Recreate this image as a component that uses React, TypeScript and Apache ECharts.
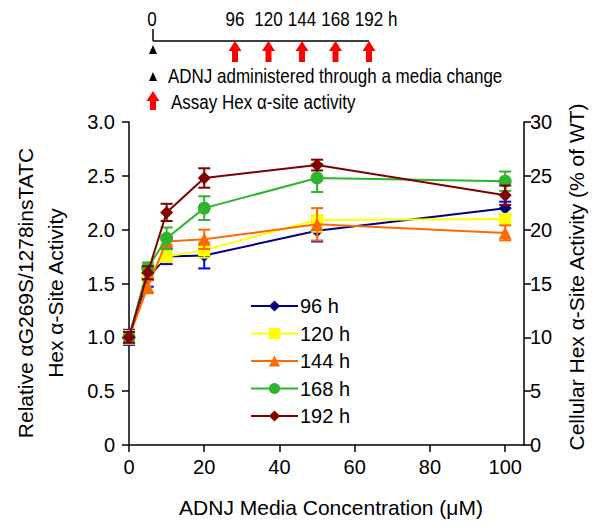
import React, { useEffect, useRef } from "react";
import * as echarts from "echarts";

const concentrations = [0, 5, 10, 20, 50, 100];
const seriesNames = ["96 h", "120 h", "144 h", "168 h", "192 h"];
const values96 = [1.0, 1.55, 1.75, 1.76, 1.99, 2.2];
const values120 = [1.0, 1.6, 1.75, 1.81, 2.09, 2.1];
const values144 = [1.0, 1.47, 1.89, 1.91, 2.05, 1.97];
const values168 = [1.0, 1.645, 1.92, 2.2, 2.48, 2.45];
const values192 = [1.0, 1.6, 2.16, 2.48, 2.6, 2.32];
const err96 = [0.07, 0.08, 0.07, 0.12, 0.1, 0.06];
const err120 = [0.06, 0.07, 0.05, 0.07, 0.11, 0.04];
const err144 = [0.05, 0.06, 0.03, 0.09, 0.15, 0.07];
const err168 = [0.05, 0.05, 0.1, 0.11, 0.13, 0.09];
const err192 = [0.05, 0.06, 0.08, 0.09, 0.05, 0.09];
const xTicks = [0, 20, 40, 60, 80, 100];
const assayHours = [96, 120, 144, 168, 192];

const FONT = "Liberation Sans, Arial, sans-serif";

export default function App() {
  const ref = useRef<HTMLDivElement>(null);
  useEffect(() => {
    if (!ref.current) return;
    const chart = echarts.init(ref.current, null, { renderer: "svg" });

    const vals = [values96, values120, values144, values168, values192];
    const errs = [err96, err120, err144, err168, err192];
    const colors = ["#000080", "#FFFF00", "#FF6A00", "#2DB52D", "#800000"];
    const errColors = ["#0000FF", "#F2F200", "#FF6A00", "#2DB52D", "#800000"];
    const symbols = ["diamond", "rect", "triangle", "circle", "diamond"];
    const symbolSizes = [13, 12, 13, 13, 13];

    const series: any[] = [];
    vals.forEach((v, i) => {
      series.push({
        type: "custom",
        name: seriesNames[i] + " err",
        xAxisIndex: 0,
        yAxisIndex: 0,
        z: 2 + i * 2,
        silent: true,
        data: concentrations.map((c, j) => [c, v[j] - errs[i][j], v[j] + errs[i][j]]),
        encode: { x: 0, y: [1, 2] },
        renderItem: (params: any, api: any) => {
          const x = api.value(0);
          const lo = api.coord([x, api.value(1)]);
          const hi = api.coord([x, api.value(2)]);
          const w = 6;
          const st = { stroke: errColors[i], lineWidth: 2 };
          return {
            type: "group",
            children: [
              { type: "line", shape: { x1: lo[0], y1: lo[1], x2: hi[0], y2: hi[1] }, style: st },
              { type: "line", shape: { x1: lo[0] - w, y1: lo[1], x2: lo[0] + w, y2: lo[1] }, style: st },
              { type: "line", shape: { x1: hi[0] - w, y1: hi[1], x2: hi[0] + w, y2: hi[1] }, style: st },
            ],
          };
        },
      });
      series.push({
        type: "line",
        name: seriesNames[i],
        xAxisIndex: 0,
        yAxisIndex: 0,
        z: 3 + i * 2,
        data: concentrations.map((c, j) => [c, v[j]]),
        symbol: symbols[i],
        symbolSize: symbolSizes[i],
        showAllSymbol: true,
        lineStyle: { color: colors[i], width: 2 },
        itemStyle: { color: colors[i], borderWidth: 0 },
      });
    });

    // schematic timeline positions
    const tx = (h: number) => (h === 0 ? 153 : 235 + ((h - 96) * 33.5) / 24);
    const lineY = 41;
    const arrow = (cx: number, yTop: number, yBot: number) => ({
      type: "polygon",
      shape: {
        points: [
          [cx, yTop],
          [cx + 6.5, yTop + 10],
          [cx + 3, yTop + 10],
          [cx + 3, yBot],
          [cx - 3, yBot],
          [cx - 3, yTop + 10],
          [cx - 6.5, yTop + 10],
        ],
      },
      style: { fill: "#FF0000" },
    });
    const narrowText = (text: string, x: number, y: number, align: string) => ({
      type: "text",
      x,
      y,
      scaleX: 0.85,
      style: { text, align, verticalAlign: "middle", font: `20px ${FONT}`, fill: "#000" },
    });

    const graphic: any[] = [
      { type: "line", shape: { x1: tx(0), y1: lineY, x2: tx(192), y2: lineY }, style: { stroke: "#000", lineWidth: 1.5 } },
      { type: "line", shape: { x1: tx(0), y1: 29, x2: tx(0), y2: lineY }, style: { stroke: "#000", lineWidth: 1.5 } },
      narrowText("0", tx(0) - 1, 19, "center"),
      {
        type: "polygon",
        shape: { points: [[tx(0) - 4, 54], [tx(0) + 4, 54], [tx(0), 45]] },
        style: { fill: "#000" },
      },
      narrowText("h", 388, 19, "left"),
      {
        type: "polygon",
        shape: { points: [[149, 81], [157, 81], [153, 72]] },
        style: { fill: "#000" },
      },
      narrowText("ADNJ administered through a media change", 168, 76, "left"),
      arrow(153, 91, 110),
      narrowText("Assay Hex α-site activity", 171, 102, "left"),
      {
        type: "text",
        x: 331,
        y: 507,
        style: { text: "ADNJ Media Concentration (μM)", align: "center", verticalAlign: "middle", font: `21px ${FONT}`, fill: "#000" },
      },
      {
        type: "text",
        x: 25,
        y: 293,
        rotation: Math.PI / 2,
        style: { text: "Relative αG269S/1278insTATC", align: "center", verticalAlign: "middle", font: `21px ${FONT}`, fill: "#000" },
      },
      {
        type: "text",
        x: 55,
        y: 293,
        rotation: Math.PI / 2,
        style: { text: "Hex α-Site Activity", align: "center", verticalAlign: "middle", font: `21px ${FONT}`, fill: "#000" },
      },
      {
        type: "text",
        x: 576,
        y: 277,
        rotation: Math.PI / 2,
        style: { text: "Cellular Hex α-Site Activity (% of WT)", align: "center", verticalAlign: "middle", font: `21px ${FONT}`, fill: "#000" },
      },
    ];
    assayHours.forEach((h) => {
      graphic.push(narrowText(String(h), tx(h), 19, "center"));
      graphic.push(arrow(tx(h), 41, 62));
    });

    chart.setOption({
      animation: false,
      backgroundColor: "#fff",
      textStyle: { fontFamily: FONT },
      grid: { left: 129, right: 86, top: 122, bottom: 77 },
      legend: {
        data: seriesNames,
        orient: "vertical",
        left: 245,
        top: 291,
        itemWidth: 47,
        itemHeight: 14,
        itemGap: 7.5,
        textStyle: { fontSize: 20, color: "#000", fontFamily: FONT, lineHeight: 20, padding: [0, 0, 0, -3] },
      },
      xAxis: {
        type: "value",
        min: 0,
        max: 105,
        splitLine: { show: false },
        axisLine: { show: true, lineStyle: { color: "#000", width: 1.5 } },
        axisTick: { show: true, length: 7, lineStyle: { color: "#000", width: 1.5 }, customValues: xTicks },
        axisLabel: { fontSize: 20, color: "#000", margin: 12, customValues: xTicks },
      },
      yAxis: [
        {
          type: "value",
          min: 0,
          max: 3,
          interval: 0.5,
          splitLine: { show: false },
          axisLine: { show: true, lineStyle: { color: "#000", width: 1.5 } },
          axisTick: { show: true, length: 7, lineStyle: { color: "#000", width: 1.5 } },
          axisLabel: {
            fontSize: 20,
            color: "#000",
            margin: 14,
            formatter: (v: number) => (v === 0 ? "0" : v.toFixed(1)),
          },
        },
        {
          type: "value",
          position: "right",
          min: 0,
          max: 30,
          interval: 5,
          splitLine: { show: false },
          axisLine: { show: true, lineStyle: { color: "#000", width: 1.5 } },
          axisTick: { show: true, length: 7, lineStyle: { color: "#000", width: 1.5 } },
          axisLabel: { fontSize: 20, color: "#000", margin: 6 },
        },
      ],
      series,
      graphic,
    });
    return () => chart.dispose();
  }, []);
  return (
    <div
      ref={ref}
      style={{ position: "fixed", left: 0, top: 0, width: 610, height: 522, background: "#fff" }}
    />
  );
}
